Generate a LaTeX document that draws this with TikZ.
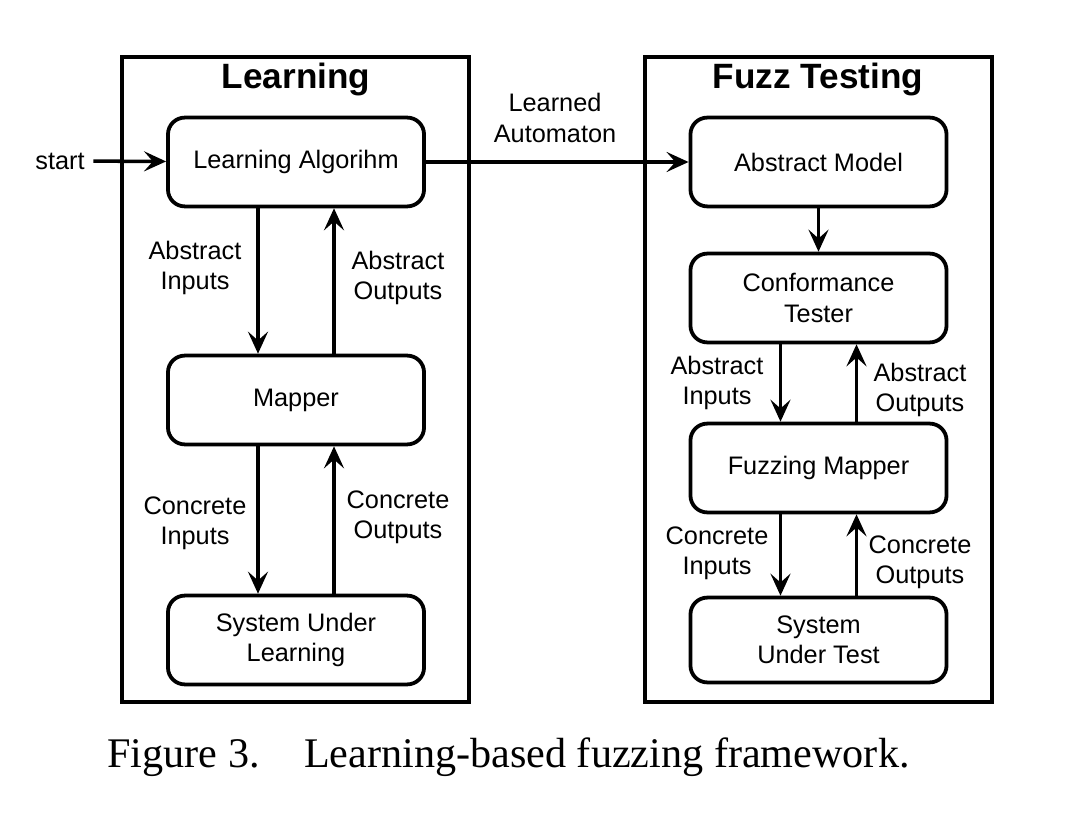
\documentclass[tikz,border=0pt]{standalone}
\usepackage{fontspec}
\setmainfont{Liberation Sans}
\newfontfamily\capfont{Liberation Serif}
\usetikzlibrary{arrows.meta}
\tikzset{
  box/.style={draw, line width=2.7pt, rounded corners=0.42cm, align=center,
    minimum width=6.4cm, minimum height=2.22cm},
  conn/.style={line width=2.5pt, -{Stealth[length=0.55cm, width=0.5cm, inset=0.22cm]}},
  frame/.style={line width=2.5pt},
  lbl/.style={align=center}
}
\begin{document}
\begin{tikzpicture}[x=0.025cm, y=-0.025cm]
\useasboundingbox (0,0) rectangle (1085,820);
\fontsize{18}{21.5}\selectfont

\draw[frame] (122,57) rectangle (469,702);
\draw[frame] (645,57) rectangle (992,702);
\node (learntitle) at (296,79) {\fontsize{25}{30}\selectfont\bfseries Learning};
\node (fuzztitle) at (818,79) {\fontsize{25}{30}\selectfont\bfseries Fuzz Testing};

\node[box] (algo) at (296,162) {Learning Algorihm};
\node[box] (mapper) at (296,400) {Mapper};
\node[box] (sul) at (296,640) {System Under\\Learning};

\node[box] (model) at (818.5,162) {Abstract Model};
\node[box] (tester) at (818.5,298) {Conformance\\Tester};
\node[box] (fmapper) at (818.5,468) {Fuzzing Mapper};
\node[box, minimum height=2.12cm] (sut) at (818.5,640) {System\\Under Test};

\node (start) at (60,161) {start};
\draw[conn] (start) -- (algo);
\draw[conn] (algo) -- (model);
\node[lbl] (learned) at (555,118) {Learned\\Automaton};

\draw[conn] ([xshift=-0.95cm]algo.south) -- ([xshift=-0.95cm]mapper.north);
\draw[conn] ([xshift=0.95cm]mapper.north) -- ([xshift=0.95cm]algo.south);
\draw[conn] ([xshift=-0.95cm]mapper.south) -- ([xshift=-0.95cm]sul.north);
\draw[conn] ([xshift=0.95cm]sul.north) -- ([xshift=0.95cm]mapper.south);
\node[lbl] (ain1) at (195,268) {Abstract\\Inputs};
\node[lbl] (aout1) at (398,278) {Abstract\\Outputs};
\node[lbl] (cin1) at (195,523) {Concrete\\Inputs};
\node[lbl] (cout1) at (398,517) {Concrete\\Outputs};

\draw[conn] (model) -- (tester);
\draw[conn] ([xshift=-0.95cm]tester.south) -- ([xshift=-0.95cm]fmapper.north);
\draw[conn] ([xshift=0.95cm]fmapper.north) -- ([xshift=0.95cm]tester.south);
\draw[conn] ([xshift=-0.95cm]fmapper.south) -- ([xshift=-0.95cm]sut.north);
\draw[conn] ([xshift=0.95cm]sut.north) -- ([xshift=0.95cm]fmapper.south);
\node[lbl] (ain2) at (717,383) {Abstract\\Inputs};
\node[lbl] (aout2) at (920,390) {Abstract\\Outputs};
\node[lbl] (cin2) at (717,553) {Concrete\\Inputs};
\node[lbl] (cout2) at (920,562) {Concrete\\Outputs};

\node (caption) at (508.5,757) {\capfont\fontsize{30}{35}\selectfont Figure 3.\hspace{1.05em}Learning-based fuzzing framework.};
\end{tikzpicture}
\end{document}
